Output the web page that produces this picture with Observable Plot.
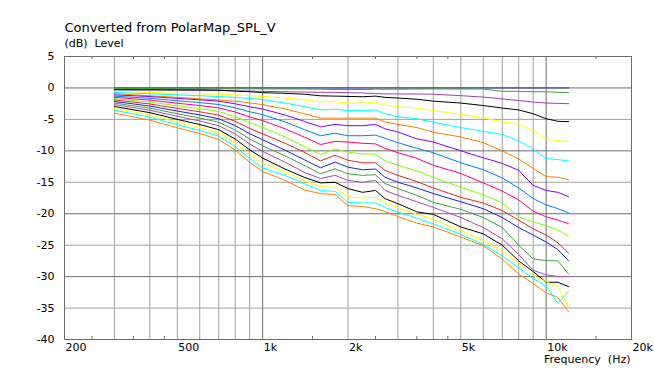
<!DOCTYPE html>
<html><head><meta charset="utf-8">
<script src="https://cdn.jsdelivr.net/npm/d3@7"></script>
<script src="https://cdn.jsdelivr.net/npm/@observablehq/plot@0.6"></script>
<style>body{margin:0;background:#fff} svg{display:block}</style>
</head><body><div id="chart"></div>
<script>
const freqs = [300, 400, 500, 600, 700, 800, 900, 1000, 1200, 1400, 1600, 1800, 2000, 2250, 2500, 2700, 3000, 3500, 4000, 5000, 6000, 7000, 8000, 9000, 10000, 11000, 12000];

const s00 = [0,0,0,0,0,0,0,0,0,0,0,0,0,0,0,0,0,0,0,0,0,0,0,0,0,0,0];
const s01 = [-0.1,-0.1,-0.12,-0.12,-0.13,-0.14,-0.15,-0.15,-0.17,-0.18,-0.2,-0.25,-0.25,-0.25,-0.2,-0.2,-0.2,-0.17,-0.17,-0.17,-0.17,-0.54,-0.54,-0.6,-0.6,-0.7,-0.75];
const s02 = [-0.25,-0.3,-0.35,-0.38,-0.42,-0.46,-0.5,-0.55,-0.6,-0.65,-0.7,-0.7,-0.75,-0.8,-0.9,-0.95,-0.95,-0.97,-1.0,-1.23,-1.45,-1.75,-2.0,-2.25,-2.4,-2.45,-2.5];
const s03 = [-0.3,-0.3,-0.3,-0.3,-0.35,-0.5,-0.6,-0.75,-0.85,-1.0,-1.25,-1.3,-1.35,-1.4,-1.3,-1.5,-1.6,-1.8,-2.1,-2.4,-2.8,-3.2,-3.5,-4.1,-4.9,-5.3,-5.37];
const s04 = [-0.55,-0.71,-0.83,-0.93,-1.01,-1.11,-1.22,-1.35,-1.6,-1.9,-2.2,-2.2,-2.4,-2.4,-2.25,-2.7,-3.0,-3.2,-3.6,-4.2,-4.75,-5.4,-5.8,-6.8,-8.1,-8.4,-8.5];
const s05 = [-0.7,-0.93,-1.1,-1.24,-1.37,-1.5,-1.67,-1.85,-2.4,-2.95,-3.5,-3.4,-3.6,-3.6,-3.5,-4.1,-4.6,-4.9,-5.45,-6.3,-6.9,-7.4,-8.4,-9.7,-11.2,-11.4,-11.6];
const s06 = [-0.9,-1.25,-1.5,-1.72,-1.92,-2.12,-2.37,-2.65,-3.35,-4.1,-4.8,-4.8,-4.8,-4.8,-4.8,-5.4,-5.8,-6.3,-7.05,-7.8,-8.7,-10.0,-11.3,-12.8,-14.1,-14.2,-14.6];
const s07 = [-1.1,-1.37,-1.66,-1.89,-2.11,-2.52,-2.99,-3.35,-4.3,-5.3,-6.2,-5.8,-6.0,-6.0,-5.8,-6.5,-7.0,-8.1,-8.6,-10.0,-11.1,-12.0,-13.1,-15.5,-16.3,-16.6,-17.3];
const s08 = [-1.3,-1.65,-2.04,-2.33,-2.63,-3.16,-3.78,-4.25,-5.4,-6.6,-7.6,-7.2,-7.6,-7.6,-7.5,-8.0,-8.7,-9.6,-10.3,-11.9,-13.0,-14.3,-15.9,-17.6,-18.6,-19.2,-19.85];
const s09 = [-1.5,-1.94,-2.43,-2.8,-3.17,-3.83,-4.61,-5.2,-6.5,-7.8,-9.0,-8.5,-8.6,-8.8,-8.9,-9.6,-10.3,-11.2,-12.3,-13.6,-15.1,-16.4,-17.8,-19.6,-20.5,-21.0,-21.6];
const s10 = [-1.7,-2.25,-2.84,-3.29,-3.75,-4.57,-5.52,-6.25,-7.8,-9.3,-10.6,-9.7,-10.2,-10.5,-10.5,-11.6,-12.3,-13.2,-14.2,-15.8,-17.0,-18.3,-20.5,-21.3,-21.9,-22.6,-23.6];
const s11 = [-1.9,-2.55,-3.25,-3.79,-4.33,-5.3,-6.44,-7.3,-8.8,-10.2,-11.6,-10.7,-11.5,-11.9,-11.9,-13.1,-13.9,-14.9,-15.9,-17.4,-18.3,-19.5,-21.0,-22.4,-23.4,-24.6,-26.3];
const s12 = [-2.15,-2.88,-3.68,-4.29,-4.9,-5.99,-7.27,-8.25,-9.9,-11.4,-12.7,-11.8,-12.6,-13.0,-12.9,-14.2,-15.0,-15.9,-16.8,-18.1,-19.2,-20.6,-22.2,-23.4,-24.5,-25.7,-27.5];
const s13 = [-2.4,-3.22,-4.1,-4.78,-5.46,-6.68,-8.11,-9.2,-10.8,-12.3,-13.65,-12.85,-13.65,-13.9,-13.8,-15.2,-16.0,-17.1,-18.2,-19.3,-20.6,-22.2,-25.0,-27.2,-27.45,-27.5,-29.6];
const s14 = [-2.65,-3.54,-4.51,-5.26,-6.0,-7.34,-8.91,-10.1,-11.8,-13.4,-14.4,-13.9,-14.7,-15.0,-14.7,-16.3,-17.1,-18.1,-19.0,-20.6,-22.2,-24.0,-26.5,-29.0,-29.7,-30.0,-30.0];
const s15 = [-2.95,-3.93,-5.0,-5.82,-6.64,-8.12,-9.84,-11.15,-12.9,-14.2,-15.1,-15.0,-16.0,-16.6,-16.3,-17.6,-18.4,-19.7,-20.1,-22.1,-23.2,-25.0,-27.5,-29.2,-30.9,-30.9,-31.6];
const s16 = [-3.25,-4.29,-5.43,-6.3,-7.17,-8.73,-10.56,-11.95,-13.4,-14.7,-15.7,-15.8,-17.3,-17.5,-17.4,-18.3,-19.0,-20.1,-20.9,-22.7,-24.3,-25.9,-27.8,-29.8,-30.8,-31.6,-34.9];
const s17 = [-3.55,-4.65,-5.84,-6.75,-7.67,-9.31,-11.24,-12.7,-13.9,-15.2,-16.3,-16.45,-18.2,-18.3,-18.3,-19.0,-19.75,-20.7,-21.6,-23.3,-24.9,-26.7,-28.6,-30.3,-31.5,-34.3,-32.3];
const s18 = [-4.0,-5.12,-6.33,-7.26,-8.19,-9.86,-11.81,-13.3,-14.7,-16.2,-16.8,-16.95,-18.7,-18.85,-19.2,-19.65,-20.45,-21.5,-22.1,-23.7,-25.1,-27.2,-29.6,-31.1,-32.6,-33.3,-35.6];

const seriesValues = [s00,s01,s02,s03,s04,s05,s06,s07,s08,s09,s10,s11,s12,s13,s14,s15,s16,s17,s18];
const seriesColors = ["#3030a8","#40a040","#a040b0","#000000","#ffff00","#00ffff","#ff8000","#8000ff","#0080ff","#ff0080","#80ff00","#e02828","#2020d0","#40a040","#a050b0","#000000","#ffff00","#00ffff","#ff8000"];

const yTicks = [5,0,-5,-10,-15,-20,-25,-30,-35,-40];
const gridMajorY = [0,-10,-20,-30];
const gridMinorY = [-5,-15,-25,-35];
const xTickValues = [200,500,1000,2000,5000,10000,20000];
const xTickLabels = ["200","500","1k","2k","5k","10k","20k"];
const gridMinorX = [300,400,500,600,700,800,900,2000,3000,4000,5000,6000,7000,8000,9000];
const gridMajorX = [1000,10000];
const minorTicksX = [250,350,450,1500,2500,3500,4500,15000];

const titleText = "Converted from PolarMap_SPL_V";
const yLabelText = "(dB)\u00a0 Level";
const xLabelText = "Frequency\u00a0 (Hz)";

const rows = [];
seriesValues.forEach((vals, s) => freqs.forEach((f, j) => rows.push({f, v: vals[j], s})));

const fam = "Verdana, 'DejaVu Sans', sans-serif";
const chart = Plot.plot({
  width: 654, height: 374,
  marginLeft: 64, marginRight: 23, marginTop: 56, marginBottom: 35,
  style: {fontFamily: fam, fontSize: "11px", background: "#fff", color: "#000"},
  x: {type: "log", domain: [200, 20000], axis: null},
  y: {domain: [-40, 5], axis: null},
  color: {type: "identity"},
  marks: [
    Plot.ruleX(gridMinorX, {stroke: "#a0a0a0"}),
    Plot.ruleY(gridMinorY, {stroke: "#a0a0a0"}),
    Plot.ruleX(gridMajorX, {stroke: "#6c6c6c"}),
    Plot.ruleY(gridMajorY, {stroke: "#6c6c6c"}),
    Plot.tickX(minorTicksX, {x: d => d, insetTop: 280, stroke: "#6c6c6c"}),
    Plot.tickX(minorTicksX, {x: d => d, insetBottom: 280, stroke: "#6c6c6c"}),
    Plot.line(rows, {x: "f", y: "v", z: "s", stroke: d => seriesColors[d.s], strokeWidth: 1}),
    Plot.frame({stroke: "#6c6c6c"}),
    Plot.text(yTicks, {y: d => d, text: d => String(d), frameAnchor: "left", textAnchor: "end", dx: -10, fill: "#000"}),
    Plot.text(xTickValues, {x: d => d, text: (d, i) => xTickLabels[i], frameAnchor: "bottom", textAnchor: "start", dx: 1, dy: 11, fill: "#000"}),
    Plot.text([titleText], {text: d => d, frameAnchor: "top-left", textAnchor: "start", dy: -34, fontSize: 13, fill: "#000"}),
    Plot.text([yLabelText], {text: d => d, frameAnchor: "top-left", textAnchor: "start", dy: -17.5, fontSize: 11, fill: "#000"}),
    Plot.text([xLabelText], {text: d => d, frameAnchor: "bottom-right", textAnchor: "end", dx: -1, dy: 23.5, fontSize: 11, fill: "#000"})
  ]
});
document.getElementById("chart").appendChild(chart);
</script>
</body></html>
